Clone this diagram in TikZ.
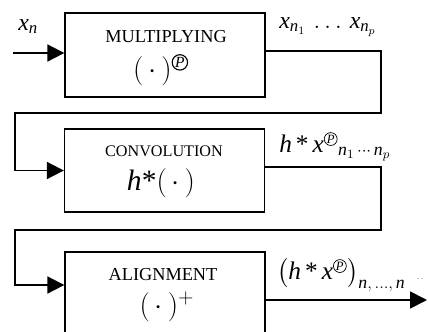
\documentclass[tikz,border=0pt]{standalone}
\usepackage{amsmath}
\usepackage{fontspec}
\setmainfont{Liberation Serif}
\usetikzlibrary{arrows.meta}
\newcommand\iv[1]{\textit{#1}}
\newcommand\circP[2]{\tikz[baseline=(cp.base)]\node[circle, draw, line width=#2, inner sep=0.4pt, font={#1}] (cp) {\textit{P}};}

\begin{document}
\begin{tikzpicture}[x=0.025cm, y=-0.025cm,
  blk/.style={draw, line width=0.9pt, minimum width=5cm, inner sep=0pt},
  wire/.style={line width=1.3pt, line join=miter},
  arr/.style={wire, -{Triangle[length=12pt, width=12pt]}},
  lab/.style={anchor=base west, inner sep=0pt},
  ttl/.style={anchor=base, inner sep=0pt}
]
\useasboundingbox (0,0) rectangle (428,331);
% blocks
\node[blk, minimum height=2.1cm] (mul) at (165,55) {};
\node[blk, minimum height=2.075cm] (conv) at (164.5,170.5) {};
\node[blk, minimum height=2.5cm] (align) at (165,302) {};
% block texts
\node[ttl, font=\fontsize{13}{13}\selectfont] (mulname) at (166,42) {MULTIPLYING};
\node[ttl, font=\fontsize{20}{20}\selectfont] (mulop) at (161,78) {$(\,\cdot\,)^{\circP{\fontsize{11}{11}\selectfont}{0.8pt}}$};
\node[ttl, font=\fontsize{11.5}{11.5}\selectfont] (convname) at (164,156) {CONVOLUTION};
\node[ttl, font=\fontsize{21}{21}\selectfont] (convop) at (161,190) {$\iv{h}\text{*}(\,\cdot\,)$};
\node[ttl, font=\fontsize{13}{13}\selectfont] (alname) at (163,280) {ALIGNMENT};
\node[ttl, font=\fontsize{20}{20}\selectfont] (alop) at (167,314) {$(\,\cdot\,)^{+}$};
% turning points
\coordinate (in) at (13,53);
\coordinate (t1) at (381,51);
\coordinate (d1) at (15,113);
\coordinate (t2) at (381,167);
\coordinate (d2) at (15,230);
\path (align.west) ++(0,-17) coordinate (e3);
\coordinate (out) at (427,300);
% connectors
\draw[arr] (in) -- (in -| mul.west);
\draw[arr] (t1 -| mul.east) -- (t1) |- (d1) |- (conv.west);
\draw[arr] (t2 -| conv.east) -- (t2) |- (d2) |- (e3);
\draw[arr] (out -| align.east) -- (out);
% signal labels
\node[lab, font=\fontsize{17}{17}\selectfont] (xn) at (18,30) {$\iv{x}_{\iv{n}}$};
\node[lab, font=\fontsize{17}{17}\selectfont] (xs) at (279,28) {$\iv{x}_{\iv{n}_1}\,\ldots\,\iv{x}_{\iv{n}_p}$};
\node[lab, font=\fontsize{18}{18}\selectfont] (hx) at (279,152) {$\iv{h}\,\text{*}\,\iv{x}^{\circP{\fontsize{9}{9}\selectfont}{0.5pt}}{}_{\iv{n}_1\,\cdots\,\iv{n}_p}$};
\node[lab, font=\fontsize{18}{18}\selectfont] (hxa) at (277,279) {$\bigl(\iv{h}\,\text{*}\,\iv{x}^{\circP{\fontsize{9}{9}\selectfont}{0.5pt}}\bigr)_{\iv{n},\,\ldots,\,\iv{n}}$};
\node[lab, font=\fontsize{5}{5}\selectfont] (dots) at (417,279) {. .};
\end{tikzpicture}
\end{document}
